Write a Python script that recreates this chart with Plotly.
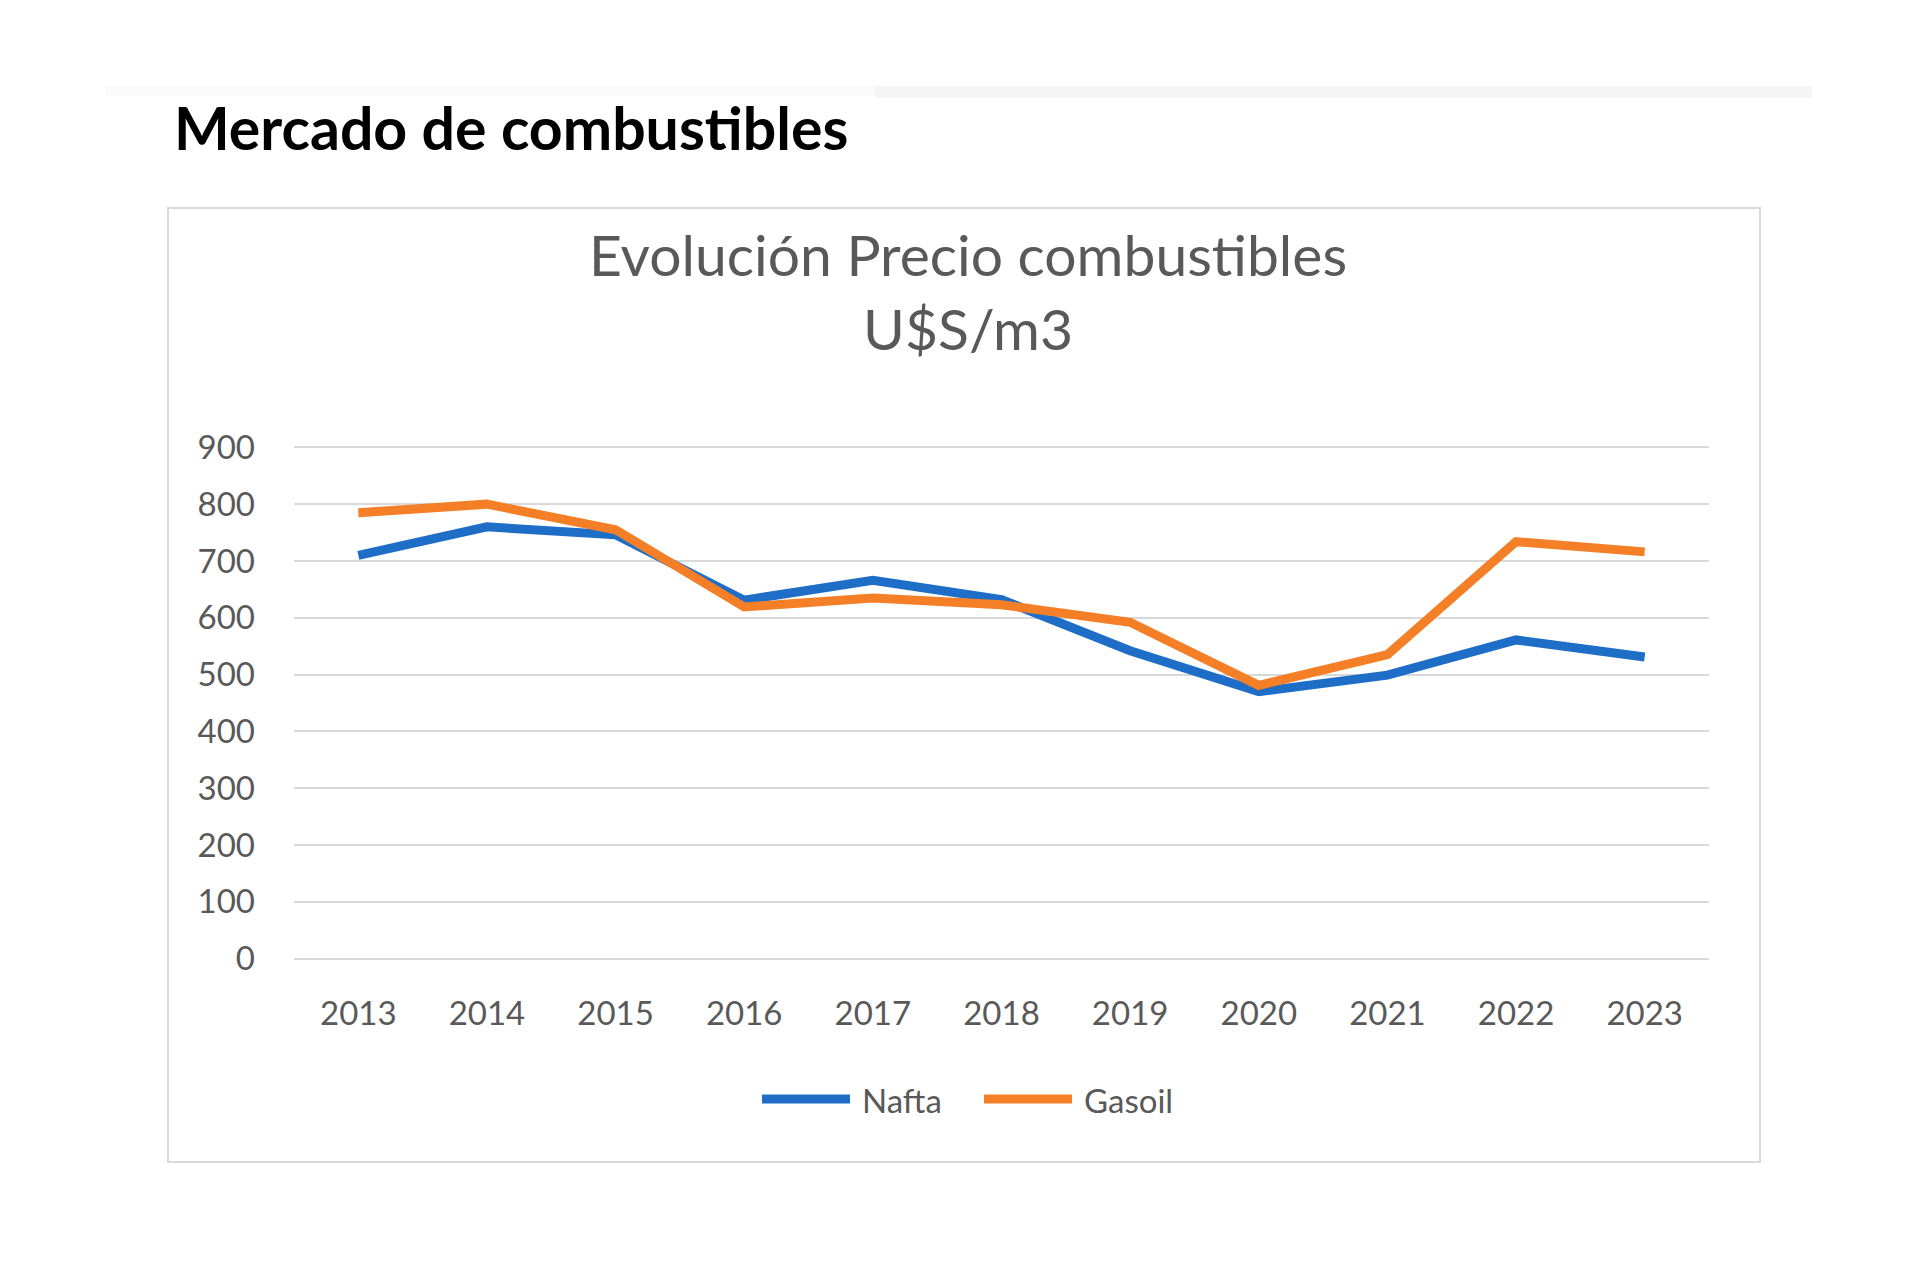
import plotly.graph_objects as go

years = ["2013", "2014", "2015", "2016", "2017", "2018", "2019", "2020", "2021", "2022", "2023"]
nafta = [710, 760, 746, 631, 666, 632, 542, 470, 499, 561, 531]
gasoil = [785, 800, 755, 619, 635, 623, 592, 481, 535, 734, 716]
y_ticks = [0, 100, 200, 300, 400, 500, 600, 700, 800, 900]
series_names = ["Nafta", "Gasoil"]
series_colors = ["#1E6EC8", "#F57F27"]

W, H = 1920, 1261

def px(x):
    return x / W

def py(y):
    return 1 - y / H

fig = go.Figure()
for name, vals, col in zip(series_names, [nafta, gasoil], series_colors):
    fig.add_trace(go.Scatter(x=years, y=vals, mode="lines", name=name,
                             line=dict(color=col, width=9), showlegend=False))

fig.update_layout(
    width=W, height=H,
    margin=dict(l=0, r=0, t=0, b=0, autoexpand=False),
    paper_bgcolor="white", plot_bgcolor="white",
    font=dict(family="Lato", color="#595959", size=33),
    xaxis=dict(domain=[px(294), px(1709)], range=[-0.5, 10.5], type="category",
               showgrid=False, zeroline=False, showline=False, automargin=False,
               ticks="", ticklabelstandoff=29,
               tickfont=dict(size=33, color="#595959")),
    yaxis=dict(domain=[py(961.5), py(444.5)], range=[-5, 905], automargin=False,
               tickvals=y_ticks, showgrid=True, gridcolor="#D9D9D9", gridwidth=2,
               zeroline=False, showline=False, ticks="", ticklabelstandoff=38,
               tickfont=dict(size=33, color="#595959")),
    showlegend=False,
)

# chart frame
fig.add_shape(type="rect", xref="paper", yref="paper",
              x0=px(168), x1=px(1760), y0=py(1162), y1=py(208),
              line=dict(color="#D9D9D9", width=2), layer="below")
# faint top band
fig.add_shape(type="rect", xref="paper", yref="paper",
              x0=px(105), x1=px(875), y0=py(96), y1=py(86),
              line=dict(width=0), fillcolor="#FBFBFB", layer="below")
fig.add_shape(type="rect", xref="paper", yref="paper",
              x0=px(875), x1=px(1812), y0=py(98), y1=py(86),
              line=dict(width=0), fillcolor="#F5F5F5", layer="below")

# custom legend (long line swatches as in the reference)
leg_x = [(762, 850, 860), (984, 1072, 1082)]
for (x0, x1, xt), name, col in zip(leg_x, series_names, series_colors):
    fig.add_shape(type="line", xref="paper", yref="paper",
                  x0=px(x0), x1=px(x1), y0=py(1099), y1=py(1099),
                  line=dict(color=col, width=9))
    fig.add_annotation(text=name, xref="paper", yref="paper",
                       x=px(xt), y=py(1100), xanchor="left", yanchor="middle", showarrow=False,
                       font=dict(family="Lato", size=33, color="#595959"))

fig.add_annotation(text="<b>Mercado de combustibles</b>", xref="paper", yref="paper",
                   x=px(172), y=py(128), xanchor="left", yanchor="middle", showarrow=False,
                   font=dict(family="Lato", size=59, color="#000000"))
fig.add_annotation(text="Evolución Precio combustibles", xref="paper", yref="paper",
                   x=px(968), y=py(254), xanchor="center", yanchor="middle", showarrow=False,
                   font=dict(family="Lato", size=57, color="#595959"))
fig.add_annotation(text="U$S/m3", xref="paper", yref="paper",
                   x=px(968), y=py(328), xanchor="center", yanchor="middle", showarrow=False,
                   font=dict(family="Lato", size=57, color="#595959"))

fig.write_html("out.html")
